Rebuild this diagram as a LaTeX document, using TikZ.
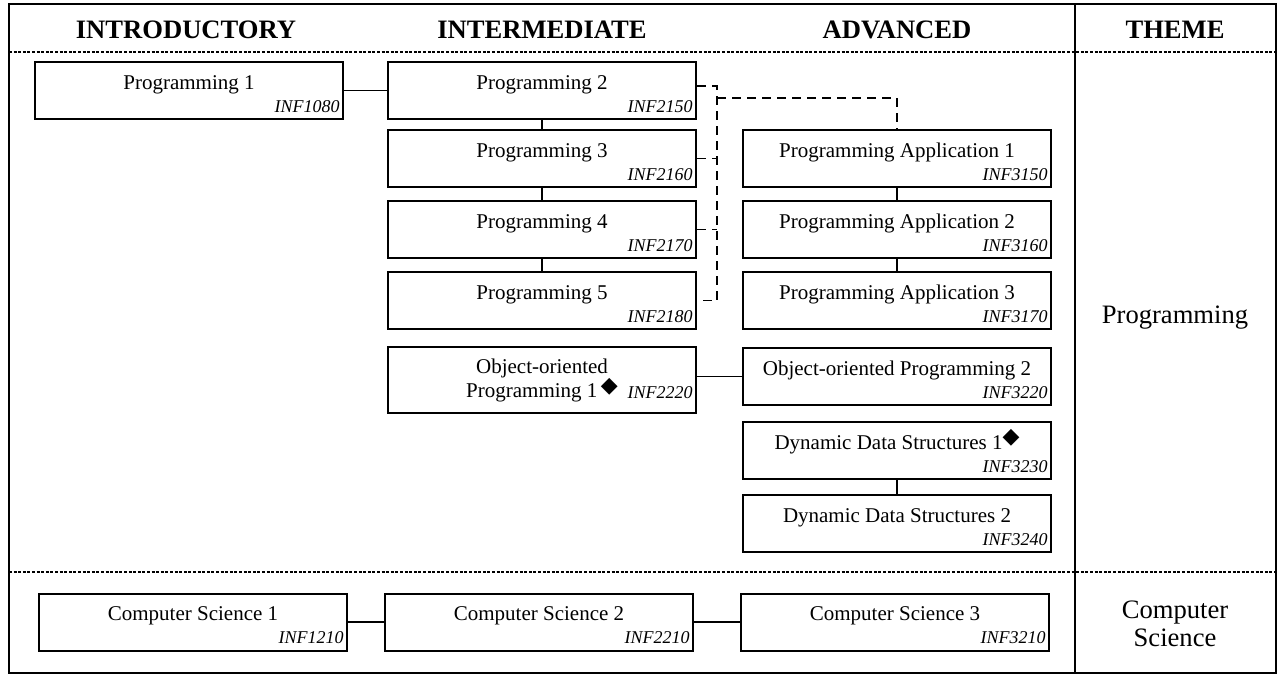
\documentclass[tikz,border=0pt]{standalone}
\usepackage{fontspec}
\setmainfont{Liberation Serif}
\newfontfamily\dingfont{DejaVu Sans}
\usetikzlibrary{positioning}
\newcommand\keymark[1][3pt]{\smash{\raisebox{#1}{\dingfont\fontsize{11}{11}\selectfont ◆}}}
\tikzset{
  course/.style={draw, line width=1pt, minimum width=154pt, minimum height=28.5pt,
    inner sep=0pt, text height=7.5pt, text depth=9pt, font=\fontsize{10.5}{12}\selectfont},
  code/.style={anchor=base east, inner sep=0pt, xshift=-2pt, yshift=4pt,
    font=\fontsize{9}{11}\selectfont\itshape},
  head/.style={anchor=base, font=\fontsize{13.3}{16}\selectfont\bfseries},
  theme/.style={align=center, font=\fontsize{13.3}{14}\selectfont},
  link/.style={line width=0.8pt},
  prereq/.style={line width=0.9pt, dash pattern=on 4.5pt off 3pt},
  divider/.style={line width=0.6pt, dash pattern=on 1.5pt off 0.8pt},
}
\begin{document}
\begin{tikzpicture}[x=0.5pt, y=-0.5pt]
  \useasboundingbox (0,0) rectangle (1277,675);
  % table frame
  \draw[line width=1.2pt] (9,4) rectangle (1276,673);
  \draw[line width=1pt] (1075,4) -- (1075,673);
  \draw[divider] (9,52) -- (1276,52);
  \draw[divider] (9,572) -- (1276,572);

  \node (hintro) [head] at (186,38) {INTRODUCTORY};
  \node (hinter) [head] at (542,38) {INTERMEDIATE};
  \node (hadv) [head] at (897,38) {ADVANCED};
  \node (htheme) [head] at (1175,38) {THEME};

  % programming theme
  \node (p1) [course] at (189,90.5) {Programming 1};
  \node (p2) [course, right=21.5pt of p1] {Programming 2};
  \node (p3) [course, below=4.5pt of p2] {Programming 3};
  \node (p4) [course, below=6pt of p3] {Programming 4};
  \node (p5) [course, below=6pt of p4] {Programming 5};
  \node (oop1) [course, below=8pt of p5, minimum height=33pt, align=center,
    text height={}, text depth={}] {Object-oriented\\Programming 1\,\keymark[2.5pt]};
  \node (pa1) [course, right=22.5pt of p3] {Programming Application 1};
  \node (pa2) [course, below=6pt of pa1] {Programming Application 2};
  \node (pa3) [course, below=6pt of pa2] {Programming Application 3};
  \node (oop2) [course, below=8.5pt of pa3] {Object-oriented Programming 2};
  \node (dds1) [course, below=7.5pt of oop2] {Dynamic Data Structures 1\keymark};
  \node (dds2) [course, below=7pt of dds1] {Dynamic Data Structures 2};

  \node (p1c) [code] at (p1.south east) {INF1080};
  \node (p2c) [code] at (p2.south east) {INF2150};
  \node (p3c) [code] at (p3.south east) {INF2160};
  \node (p4c) [code] at (p4.south east) {INF2170};
  \node (p5c) [code] at (p5.south east) {INF2180};
  \node (oop1c) [code, yshift=4pt] at (oop1.south east) {INF2220}; % on the second line
  \node (pa1c) [code] at (pa1.south east) {INF3150};
  \node (pa2c) [code] at (pa2.south east) {INF3160};
  \node (pa3c) [code] at (pa3.south east) {INF3170};
  \node (oop2c) [code] at (oop2.south east) {INF3220};
  \node (dds1c) [code] at (dds1.south east) {INF3230};
  \node (dds2c) [code] at (dds2.south east) {INF3240};

  \draw[link] (p1) -- (p2);
  \draw[link] (p2) -- (p3);
  \draw[link] (p3) -- (p4);
  \draw[link] (p4) -- (p5);
  \draw[link] (pa1) -- (pa2);
  \draw[link] (pa2) -- (pa3);
  \draw[link] (oop2.west) -- (oop2.west -| oop1.east);
  \draw[link] (dds1) -- (dds2);

  % any of programming 2-5 leads to application 1
  \coordinate (spine) at (717,98);
  \draw[prereq] ([yshift=2.25pt]p2.east) -| (spine |- p5.east) -- (p5.east);
  \draw[prereq] (p3.east) -- (p3.east -| spine);
  \draw[prereq] (p4.east) -- (p4.east -| spine);
  \draw[prereq] (spine) -| (pa1.north);

  \node (tprog) [theme] at (1175,318) {Programming};

  % computer science theme
  \node (cs1) [course] at (193,622) {Computer Science 1};
  \node (cs2) [course, right=18pt of cs1] {Computer Science 2};
  \node (cs3) [course, right=23pt of cs2] {Computer Science 3};
  \node (cs1c) [code] at (cs1.south east) {INF1210};
  \node (cs2c) [code] at (cs2.south east) {INF2210};
  \node (cs3c) [code] at (cs3.south east) {INF3210};
  \draw[link] (cs1) -- (cs2);
  \draw[link] (cs2) -- (cs3);

  \node (tcs) [theme] at (1175,624) {Computer\\Science};
\end{tikzpicture}
\end{document}
